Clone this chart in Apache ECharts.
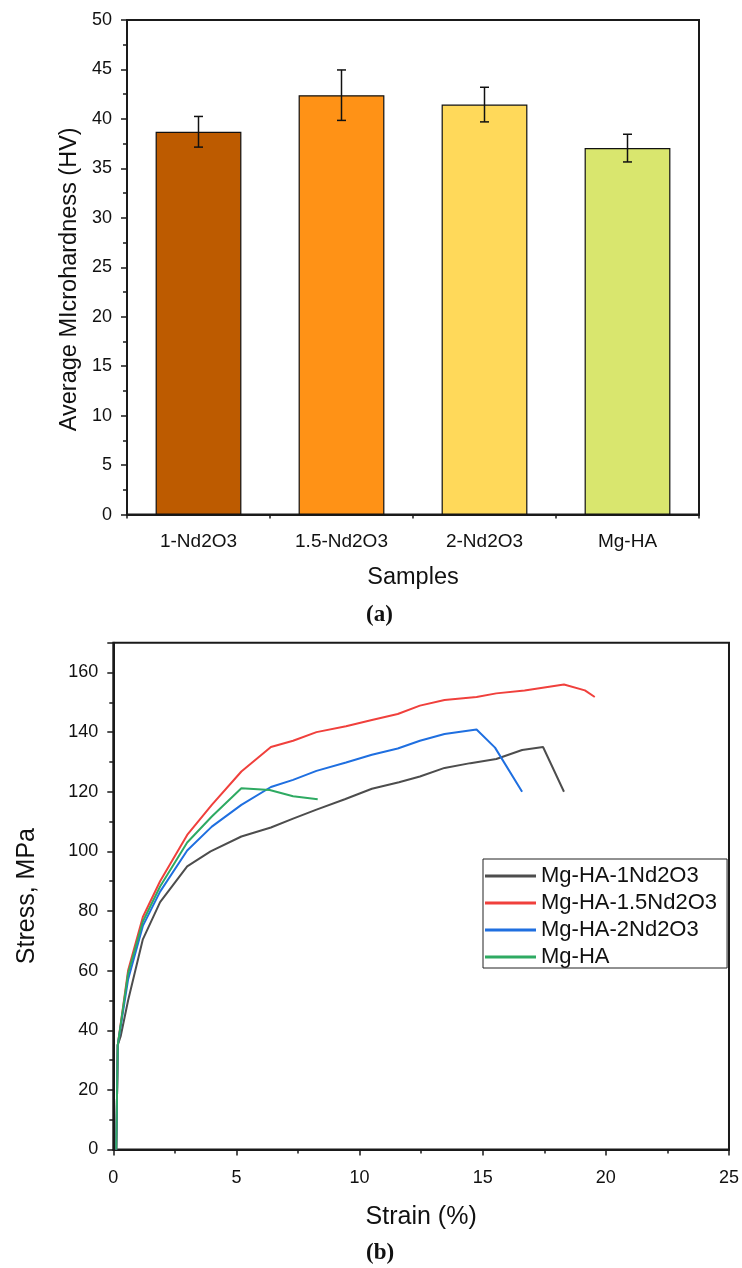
<!DOCTYPE html>
<html>
<head>
<meta charset="utf-8">
<script src="https://cdn.jsdelivr.net/npm/echarts@6/dist/echarts.min.js"></script>
<style>html,body{margin:0;padding:0;background:#fff;}#c{width:742px;height:1268px;}</style>
</head>
<body>
<div id="c"></div>
<script>
// ---- Panel (a) data ----
const samples = ['1-Nd2O3', '1.5-Nd2O3', '2-Nd2O3', 'Mg-HA'];
const hardness = [38.7, 42.4, 41.45, 37.05];
const hardnessErr = [1.55, 2.55, 1.75, 1.4];
const barColors = ['#BD5B00', '#FF9216', '#FFD95A', '#D9E66E'];

// ---- Panel (b) data: [strain %, stress MPa] ----
const seriesNames = ['Mg-HA-1Nd2O3', 'Mg-HA-1.5Nd2O3', 'Mg-HA-2Nd2O3', 'Mg-HA'];
const curve1Nd = [[0.12,0],[0.18,35],[0.3,38],[0.6,50],[1.2,70.5],[1.9,83],[3.0,95],[3.95,100],[5.2,105],[6.4,108],[7.3,111],[8.25,114],[9.4,117.5],[10.5,121],[11.6,123.2],[12.45,125.1],[13.45,128],[14.5,129.6],[15.55,131],[16.6,134],[17.45,135],[18.3,120]];
const curve15Nd = [[0.12,0],[0.18,35],[0.6,60],[1.2,78],[1.9,90],[3.0,105.5],[4.0,115.6],[5.2,126.8],[6.4,135],[7.3,137.1],[8.25,140],[9.45,142],[10.5,144.1],[11.55,146.1],[12.45,148.9],[13.45,150.8],[14.75,151.8],[15.55,153],[16.7,154],[18.3,156],[19.15,154],[19.55,151.8]];
const curve2Nd = [[0.12,0],[0.18,35],[0.6,57],[1.2,75],[1.9,86.5],[3.0,100.3],[4.0,108.3],[5.2,115.6],[6.4,121.6],[7.3,124],[8.25,127],[9.45,129.8],[10.5,132.4],[11.55,134.5],[12.45,137.1],[13.45,139.4],[14.75,140.9],[15.5,134.8],[16.6,120]];
const curveMgHA = [[0.12,0],[0.18,35],[0.6,59],[1.2,76.5],[1.9,88.2],[3.0,103],[4.0,111.7],[5.2,121.2],[6.35,120.6],[7.3,118.5],[8.3,117.5]];
const lineColors = ['#4D4D4D', '#F0403C', '#1F6FE0', '#2EAA62'];

const FONT = '"Liberation Sans", Arial, sans-serif';
const chart = echarts.init(document.getElementById('c'), null, {renderer: 'canvas'});

const curves = [curve1Nd, curve15Nd, curve2Nd, curveMgHA];

const option = {
  animation: false,
  backgroundColor: '#fff',
  grid: [
    {left: 127, top: 20, width: 572, height: 494.6, show: true, borderColor: '#1a1a1a', borderWidth: 2, backgroundColor: 'transparent'},
    {left: 113.3, top: 642.7, width: 616.2, height: 506.8, show: true, borderColor: '#1a1a1a', borderWidth: 2, backgroundColor: 'transparent'}
  ],
  legend: {
    data: seriesNames,
    orient: 'vertical',
    left: 483,
    top: 859,
    icon: 'rect',
    itemWidth: 51,
    itemHeight: 3,
    itemGap: 5,
    padding: [6, 10, 0, 2],
    borderColor: '#222',
    borderWidth: 1,
    textStyle: {fontFamily: FONT, fontSize: 22, color: '#111'}
  },
  xAxis: [
    {
      type: 'category', gridIndex: 0, data: samples,
      axisLine: {lineStyle: {color: '#1a1a1a', width: 2}},
      axisTick: {alignWithLabel: true, length: 6, lineStyle: {color: '#1a1a1a', width: 1.5}},
      axisLabel: {fontFamily: FONT, fontSize: 19, color: '#111', margin: 18},
      name: 'Samples', nameLocation: 'middle', nameGap: 51,
      nameTextStyle: {fontFamily: FONT, fontSize: 23.5, color: '#111'}
    },
    {
      type: 'value', gridIndex: 0, min: 0, max: 4, interval: 1, position: 'bottom',
      axisLine: {show: false},
      axisTick: {show: true, length: 4, lineStyle: {color: '#1a1a1a', width: 1.5}},
      axisLabel: {show: false},
      splitLine: {show: false}
    },
    {
      type: 'value', gridIndex: 1, min: 0, max: 25, interval: 5,
      axisLine: {onZero: false, lineStyle: {color: '#1a1a1a', width: 2}},
      axisTick: {length: 6, lineStyle: {color: '#1a1a1a', width: 1.5}},
      minorTick: {show: true, splitNumber: 2, length: 4, lineStyle: {color: '#1a1a1a', width: 1.5}},
      axisLabel: {fontFamily: FONT, fontSize: 18, color: '#111', margin: 20},
      splitLine: {show: false},
      name: 'Strain (%)', nameLocation: 'middle', nameGap: 55,
      nameTextStyle: {fontFamily: FONT, fontSize: 25, color: '#111'}
    }
  ],
  yAxis: [
    {
      type: 'value', gridIndex: 0, min: 0, max: 50, interval: 5,
      axisLine: {show: true, lineStyle: {color: '#1a1a1a', width: 2}},
      axisTick: {show: true, length: 6, lineStyle: {color: '#1a1a1a', width: 1.5}},
      minorTick: {show: true, splitNumber: 2, length: 4, lineStyle: {color: '#1a1a1a', width: 1.5}},
      axisLabel: {fontFamily: FONT, fontSize: 18, color: '#111', margin: 15},
      splitLine: {show: false},
      name: 'Average MIcrohardness (HV)', nameLocation: 'middle', nameGap: 43,
      nameTextStyle: {fontFamily: FONT, fontSize: 23.5, color: '#111', padding: [0, 24, 0, 0]}
    },
    {
      type: 'value', gridIndex: 1, min: 0, max: 170, interval: 20,
      axisLine: {show: true, onZero: false, lineStyle: {color: '#1a1a1a', width: 2}},
      axisTick: {show: true, length: 6, lineStyle: {color: '#1a1a1a', width: 1.5}},
      minorTick: {show: true, splitNumber: 2, length: 4, lineStyle: {color: '#1a1a1a', width: 1.5}},
      axisLabel: {fontFamily: FONT, fontSize: 18, color: '#111', margin: 15, showMaxLabel: false,
        formatter: v => (v > 160 ? '' : String(v))},
      splitLine: {show: false},
      name: 'Stress, MPa', nameLocation: 'middle', nameGap: 74,
      nameTextStyle: {fontFamily: FONT, fontSize: 25, color: '#111'}
    }
  ],
  series: [
    {
      type: 'bar', xAxisIndex: 0, yAxisIndex: 0, barWidth: '60%',
      data: hardness.map((v, i) => ({value: v, itemStyle: {color: barColors[i]}})),
      itemStyle: {borderColor: '#111', borderWidth: 1.2}
    },
    {
      type: 'custom', xAxisIndex: 0, yAxisIndex: 0, z: 10,
      data: hardness.map((v, i) => [i, v - hardnessErr[i], v + hardnessErr[i]]),
      renderItem: function (params, api) {
        const x = api.value(0);
        const lo = api.coord([x, api.value(1)]);
        const hi = api.coord([x, api.value(2)]);
        const hw = 4.5;
        const st = {stroke: '#111', lineWidth: 1.5};
        return {type: 'group', children: [
          {type: 'line', shape: {x1: lo[0], y1: lo[1], x2: hi[0], y2: hi[1]}, style: st},
          {type: 'line', shape: {x1: lo[0]-hw, y1: lo[1], x2: lo[0]+hw, y2: lo[1]}, style: st},
          {type: 'line', shape: {x1: hi[0]-hw, y1: hi[1], x2: hi[0]+hw, y2: hi[1]}, style: st}
        ]};
      }
    }
  ].concat(curves.map((d, i) => ({
    name: seriesNames[i], type: 'line', xAxisIndex: 2, yAxisIndex: 1,
    data: d, symbol: 'none', smooth: false,
    lineStyle: {color: lineColors[i], width: 2},
    itemStyle: {color: lineColors[i]}
  }))),
  graphic: [
    {type: 'text', left: 366, top: 604, style: {text: '(a)', font: 'bold 23px "Liberation Serif", "Times New Roman", serif', fill: '#111'}},
    {type: 'text', left: 366, top: 1242, style: {text: '(b)', font: 'bold 23px "Liberation Serif", "Times New Roman", serif', fill: '#111'}}
  ]
};
chart.setOption(option);
</script>
</body>
</html>
